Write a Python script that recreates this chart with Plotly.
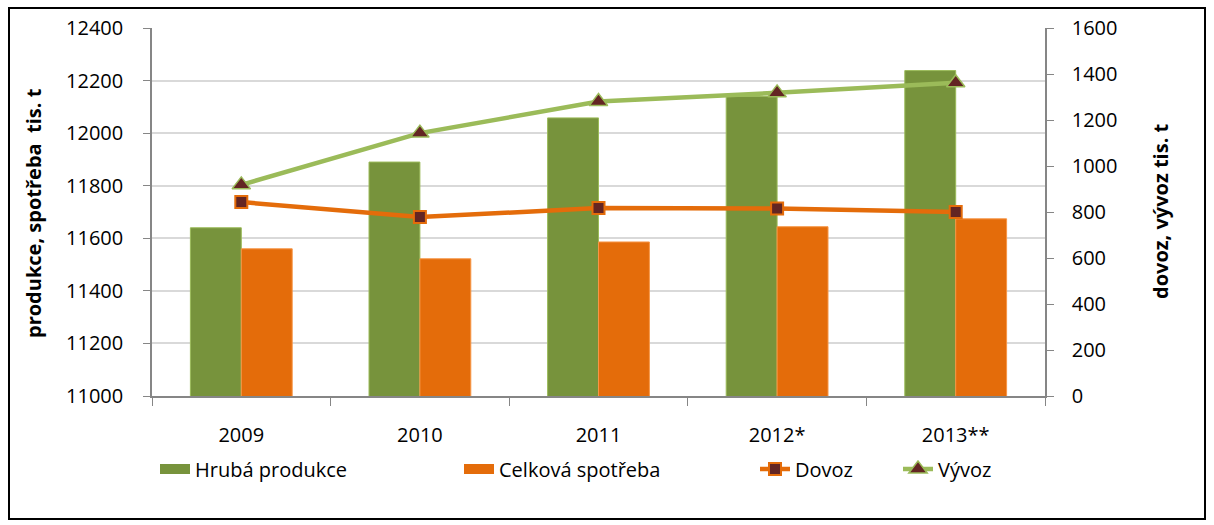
import plotly.graph_objects as go

years = ["2009", "2010", "2011", "2012*", "2013**"]
produkce = [11640, 11890, 12058, 12140, 12238]
spotreba = [11560, 11522, 11586, 11644, 11674]
dovoz = [843, 778, 817, 815, 800]
vyvoz = [918, 1143, 1280, 1318, 1362]

left_ticks = list(range(11000, 12401, 200))
right_ticks = list(range(0, 1601, 200))

FONT = "Open Sans"
FS = 20
W, H = 1214, 525
L, R, T, B = 152, 169, 28, 129
pw, ph = W - L - R, H - T - B

GREEN = "#77933C"
ORANGE = "#E46C0A"

def px(x):
    return (x - L) / pw

def py(y):
    return (H - B - y) / ph

fig = go.Figure()
fig.add_trace(go.Bar(x=years, y=produkce, name="Hrubá produkce",
                     marker=dict(color=GREEN, line=dict(color="#9BBB59", width=1)),
                     showlegend=False))
fig.add_trace(go.Bar(x=years, y=spotreba, name="Celková spotřeba",
                     marker=dict(color=ORANGE, line=dict(color="#F79646", width=1)),
                     showlegend=False))
fig.add_trace(go.Scatter(x=years, y=dovoz, name="Dovoz", yaxis="y2", mode="lines+markers",
                         line=dict(color=ORANGE, width=4.5),
                         marker=dict(symbol="square", size=12, color="#632523",
                                     line=dict(color=ORANGE, width=2)),
                         legend="legend3"))
fig.add_trace(go.Scatter(x=years, y=vyvoz, name="Vývoz", yaxis="y2", mode="lines+markers",
                         line=dict(color="#9BBB59", width=4.5),
                         marker=dict(symbol="triangle-up", size=16, color="#632523",
                                     line=dict(color="#9BBB59", width=1.5)),
                         legend="legend4"))
# legend swatches for the bar series (rectangular keys)
fig.add_trace(go.Scatter(x=[None], y=[None], name="Hrubá produkce", mode="lines",
                         line=dict(color=GREEN, width=14), legend="legend"))
fig.add_trace(go.Scatter(x=[None], y=[None], name="Celková spotřeba", mode="lines",
                         line=dict(color=ORANGE, width=14), legend="legend2"))

leg_common = dict(orientation="h", yanchor="middle", xanchor="left",
                  font=dict(family=FONT, size=FS, color="#000000"),
                  bgcolor="rgba(0,0,0,0)", itemwidth=30)
legend_y = py(469)

fig.update_layout(
    width=W, height=H,
    margin=dict(l=L, r=R, t=T, b=B),
    paper_bgcolor="white", plot_bgcolor="white",
    font=dict(family=FONT, size=FS, color="#000000"),
    barmode="group", bargap=0.43, bargroupgap=0,
    showlegend=True,
    legend=dict(x=px(155), y=legend_y, **leg_common),
    legend2=dict(x=px(459), y=legend_y, **leg_common),
    legend3=dict(x=px(755), y=legend_y, **leg_common),
    legend4=dict(x=px(898), y=legend_y, **leg_common),
    xaxis=dict(showline=True, linecolor="#868686", linewidth=1.5,
               ticks="outside", tickson="boundaries", ticklen=8, tickcolor="#868686",
               tickfont=dict(family=FONT, size=FS), ticklabelstandoff=20,
               showgrid=False, zeroline=False),
    yaxis=dict(range=[11000, 12400], tickvals=left_ticks, tickformat="d", showline=True,
               linecolor="#868686", linewidth=1.5, ticks="outside", ticklen=7,
               tickcolor="#868686", showgrid=True, gridcolor="#D9D9D9", gridwidth=1.5,
               tickfont=dict(family=FONT, size=FS), ticklabelstandoff=16,
               zeroline=False),
    yaxis2=dict(range=[0, 1600], tickvals=right_ticks, tickformat="d", overlaying="y",
                side="right", showline=True, linecolor="#868686", linewidth=1.5,
                ticks="outside", ticklen=7, tickcolor="#868686", showgrid=False,
                zeroline=False, tickfont=dict(family=FONT, size=FS), ticklabelstandoff=14),
    annotations=[
        dict(text="<b>produkce, spotřeba  tis. t</b>", textangle=-90,
             x=px(33), y=py(213), xref="paper", yref="paper",
             xanchor="center", yanchor="middle",
             showarrow=False, font=dict(family=FONT, size=FS)),
        dict(text="<b>dovoz, vývoz tis. t</b>", textangle=-90,
             x=px(1160), y=py(211), xref="paper", yref="paper",
             xanchor="center", yanchor="middle",
             showarrow=False, font=dict(family=FONT, size=FS)),
    ],
    shapes=[dict(type="rect", xref="paper", yref="paper",
                 x0=px(9), x1=px(1205), y0=py(519), y1=py(8),
                 line=dict(color="#000000", width=2), fillcolor="rgba(0,0,0,0)",
                 layer="below")],
)

fig.write_html("out.html", config={"displayModeBar": False},
               post_script="document.body.style.margin='0';")
